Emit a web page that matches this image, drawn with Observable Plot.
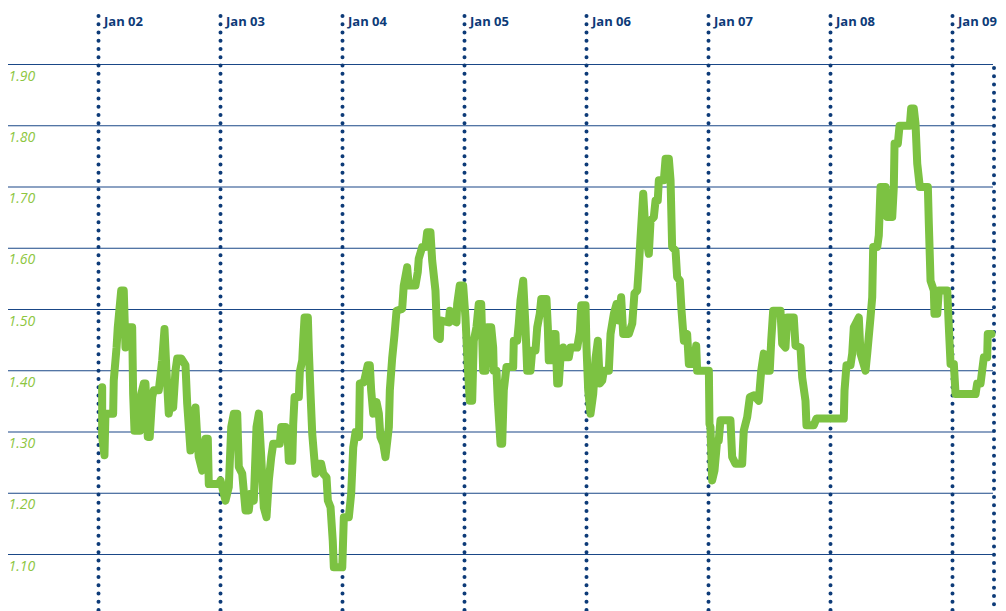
<!DOCTYPE html>
<html>
<head>
<meta charset="utf-8">
<script src="https://cdn.jsdelivr.net/npm/d3@7"></script>
<script src="https://cdn.jsdelivr.net/npm/@observablehq/plot@0.6"></script>
<style>
  html, body { margin: 0; padding: 0; background: #fff; }
  #chart svg { display: block; }
</style>
</head>
<body>
<div id="chart"></div>
<script>
// Time as decimal years
const years = [
  2002.030,2002.030,2002.049,2002.057,2002.120,2002.125,2002.148,2002.158,2002.186,2002.207,
  2002.221,2002.235,2002.276,2002.284,2002.295,2002.339,2002.350,2002.371,2002.385,2002.404,
  2002.420,2002.440,2002.453,2002.494,2002.522,2002.541,2002.557,2002.576,2002.590,2002.612,
  2002.631,2002.645,2002.678,2002.713,2002.727,2002.754,2002.768,2002.795,2002.809,2002.822,
  2002.850,2002.877,2002.896,2002.904,2002.986,2003.000,2003.041,2003.068,2003.088,2003.109,
  2003.137,2003.150,2003.178,2003.205,2003.232,2003.246,2003.273,2003.295,2003.314,2003.334,
  2003.355,2003.377,2003.396,2003.416,2003.432,2003.486,2003.498,2003.533,2003.552,2003.560,
  2003.588,2003.596,2003.607,2003.642,2003.650,2003.670,2003.678,2003.689,2003.716,2003.724,
  2003.738,2003.752,2003.779,2003.793,2003.825,2003.842,2003.869,2003.880,2003.902,2003.920,
  2003.929,2003.998,2004.011,2004.052,2004.071,2004.088,2004.107,2004.135,2004.142,2004.175,
  2004.207,2004.224,2004.235,2004.252,2004.279,2004.298,2004.311,2004.334,2004.352,2004.380,
  2004.388,2004.407,2004.426,2004.443,2004.489,2004.502,2004.530,2004.543,2004.598,2004.617,
  2004.625,2004.653,2004.680,2004.694,2004.721,2004.735,2004.762,2004.776,2004.798,2004.803,
  2004.871,2004.880,2004.907,2004.934,2004.940,2004.961,2004.989,2005.008,2005.027,2005.043,
  2005.063,2005.076,2005.098,2005.117,2005.137,2005.153,2005.172,2005.186,2005.219,2005.235,
  2005.240,2005.262,2005.273,2005.295,2005.309,2005.322,2005.344,2005.399,2005.404,2005.432,
  2005.445,2005.459,2005.481,2005.500,2005.514,2005.541,2005.555,2005.582,2005.596,2005.617,
  2005.629,2005.672,2005.683,2005.691,2005.711,2005.727,2005.746,2005.760,2005.773,2005.787,
  2005.809,2005.828,2005.855,2005.869,2005.924,2005.945,2005.957,2005.992,2006.000,2006.014,
  2006.033,2006.055,2006.074,2006.093,2006.109,2006.129,2006.142,2006.183,2006.197,2006.224,
  2006.246,2006.265,2006.284,2006.301,2006.347,2006.375,2006.393,2006.416,2006.429,2006.443,
  2006.465,2006.484,2006.511,2006.525,2006.552,2006.566,2006.584,2006.593,2006.634,2006.648,
  2006.675,2006.689,2006.702,2006.730,2006.743,2006.765,2006.779,2006.798,2006.825,2006.839,
  2006.880,2006.899,2006.907,2006.975,2007.003,2007.008,2007.016,2007.030,2007.049,2007.071,
  2007.084,2007.098,2007.180,2007.194,2007.221,2007.276,2007.289,2007.317,2007.339,2007.371,
  2007.412,2007.432,2007.453,2007.475,2007.502,2007.514,2007.530,2007.590,2007.604,2007.631,
  2007.645,2007.699,2007.713,2007.754,2007.768,2007.795,2007.803,2007.863,2007.885,2008.109,
  2008.115,2008.131,2008.164,2008.178,2008.191,2008.232,2008.246,2008.287,2008.301,2008.328,
  2008.342,2008.350,2008.383,2008.396,2008.410,2008.451,2008.465,2008.506,2008.519,2008.525,
  2008.552,2008.566,2008.650,2008.661,2008.683,2008.697,2008.711,2008.732,2008.798,2008.806,
  2008.820,2008.847,2008.852,2008.875,2008.888,2008.957,2008.970,2008.984,2009.011,2009.025,
  2009.189,2009.202,2009.230,2009.243,2009.257,2009.284,2009.289,2009.320
];
const values = [
  1.373,1.292,1.262,1.330,1.330,1.384,1.438,1.471,1.531,1.531,
  1.438,1.471,1.471,1.362,1.302,1.302,1.362,1.379,1.379,1.292,
  1.292,1.357,1.368,1.368,1.417,1.468,1.400,1.330,1.346,1.340,
  1.400,1.420,1.420,1.409,1.346,1.270,1.308,1.340,1.292,1.259,
  1.237,1.289,1.289,1.215,1.215,1.221,1.188,1.210,1.308,1.330,
  1.330,1.243,1.232,1.172,1.172,1.199,1.188,1.308,1.330,1.259,
  1.177,1.161,1.221,1.259,1.281,1.281,1.308,1.308,1.286,1.253,
  1.253,1.313,1.357,1.357,1.398,1.417,1.449,1.487,1.487,1.433,
  1.362,1.297,1.232,1.248,1.248,1.232,1.226,1.188,1.177,1.123,
  1.079,1.079,1.161,1.161,1.199,1.275,1.300,1.292,1.379,1.381,
  1.409,1.409,1.368,1.330,1.349,1.330,1.292,1.281,1.259,1.308,
  1.368,1.420,1.458,1.498,1.501,1.539,1.569,1.539,1.539,1.561,
  1.583,1.602,1.602,1.626,1.626,1.580,1.531,1.455,1.452,1.482,
  1.479,1.498,1.482,1.479,1.509,1.539,1.539,1.487,1.406,1.351,
  1.351,1.449,1.471,1.509,1.509,1.400,1.400,1.471,1.471,1.438,
  1.400,1.400,1.351,1.281,1.281,1.368,1.406,1.406,1.449,1.449,
  1.477,1.515,1.547,1.471,1.400,1.400,1.433,1.433,1.471,1.493,
  1.517,1.517,1.471,1.417,1.417,1.460,1.460,1.379,1.379,1.422,
  1.438,1.422,1.422,1.438,1.438,1.463,1.507,1.507,1.438,1.368,
  1.330,1.362,1.420,1.449,1.379,1.384,1.400,1.400,1.460,1.493,
  1.509,1.482,1.520,1.460,1.460,1.477,1.526,1.531,1.569,1.618,
  1.689,1.624,1.591,1.645,1.651,1.678,1.678,1.711,1.711,1.746,
  1.746,1.711,1.602,1.596,1.553,1.547,1.498,1.449,1.460,1.411,
  1.411,1.441,1.400,1.400,1.400,1.313,1.308,1.221,1.237,1.286,
  1.286,1.319,1.319,1.259,1.248,1.248,1.302,1.324,1.357,1.360,
  1.351,1.400,1.428,1.400,1.400,1.449,1.498,1.498,1.444,1.438,
  1.487,1.487,1.441,1.438,1.389,1.351,1.311,1.311,1.322,1.322,
  1.368,1.409,1.409,1.428,1.471,1.487,1.428,1.400,1.428,1.487,
  1.520,1.602,1.602,1.621,1.700,1.700,1.651,1.651,1.700,1.771,
  1.771,1.800,1.800,1.828,1.828,1.803,1.738,1.700,1.700,1.640,
  1.547,1.531,1.493,1.493,1.531,1.531,1.471,1.411,1.411,1.362,
  1.362,1.379,1.379,1.400,1.422,1.422,1.460,1.460
];
const tickYears = [2002, 2003, 2004, 2005, 2006, 2007, 2008, 2009];
const tickLabels = ["Jan 02", "Jan 03", "Jan 04", "Jan 05", "Jan 06", "Jan 07", "Jan 08", "Jan 09"];
const gridValues = [1.10, 1.20, 1.30, 1.40, 1.50, 1.60, 1.70, 1.80, 1.90];
const gridLabels = ["1.10", "1.20", "1.30", "1.40", "1.50", "1.60", "1.70", "1.80", "1.90"];

const data = years.map((t, i) => ({t, v: values[i]}));

const W = 1006, H = 611;
const pxPerYear = 122, x0 = 98;           // layout of the year scale
const pxPerUnit = 612.5, y190 = 64;       // layout of the value scale
const xDomain = [2002 - x0 / pxPerYear, 2002 + (W - x0) / pxPerYear];
const yDomain = [1.90 - (H - y190) / pxPerUnit, 1.90 + y190 / pxPerUnit];

const navy = "#0d3b78";
const chart = Plot.plot({
  width: W,
  height: H,
  margin: 0,
  style: {background: "#fff", overflow: "visible"},
  x: {type: "linear", domain: xDomain, axis: null},
  y: {domain: yDomain, axis: null},
  marks: [
    Plot.ruleY(gridValues, {stroke: "#1a4787", strokeWidth: 1.1, insetLeft: 8, insetRight: 13}),
    Plot.ruleX(tickYears, {stroke: navy, strokeWidth: 4, strokeLinecap: "round",
      strokeDasharray: "0 8.25", insetTop: 16}),
    Plot.ruleX([xDomain[1]], {stroke: navy, strokeWidth: 4, strokeLinecap: "round",
      strokeDasharray: "0 8.25", insetTop: 68, dx: -12.5}),
    Plot.line(data, {x: "t", y: "v", stroke: "#7cc242", strokeWidth: 8,
      strokeLinejoin: "round", strokeLinecap: "round"}),
    Plot.text(gridValues, {x: () => xDomain[0], y: d => d, text: (d, i) => gridLabels[i],
      dx: 8, dy: 16, textAnchor: "start", lineAnchor: "bottom", fill: "#8dc63f",
      fontStyle: "italic", fontSize: 14, fontFamily: "Open Sans"}),
    Plot.text(tickYears, {x: d => d, frameAnchor: "top", text: (d, i) => tickLabels[i],
      dx: 5.5, dy: 25, textAnchor: "start", lineAnchor: "bottom", fill: navy,
      fontWeight: "bold", fontSize: 13, fontFamily: "Open Sans"})
  ]
});
document.getElementById("chart").appendChild(chart);
</script>
</body>
</html>
